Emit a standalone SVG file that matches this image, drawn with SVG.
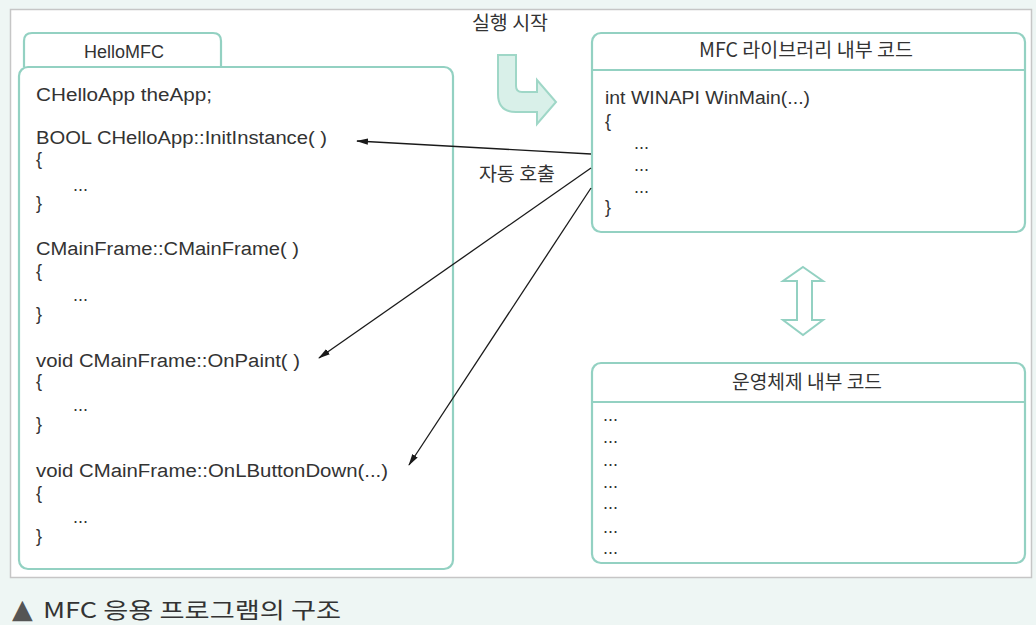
<svg xmlns="http://www.w3.org/2000/svg" width="1036" height="625" viewBox="0 0 1036 625">
<style>
.bg{fill:#eef6f4}
.frame{fill:#ffffff;stroke:#c6c6c6;stroke-width:1.5}
.box{fill:#ffffff;stroke:#93d1c2;stroke-width:2.2}
.div{stroke:#93d1c2;stroke-width:2.2}
.t{font-family:"Liberation Sans","Noto Sans CJK KR",Arial,sans-serif;fill:#333333;font-size:18px}
.k{font-family:"Noto Sans CJK KR","Liberation Sans",sans-serif;fill:#333333;font-size:19.5px}
.c{text-anchor:middle}
.conn{stroke:#1a1a1a;stroke-width:1.3;fill:none;marker-end:url(#ah)}
.big{fill:#d9f0e9;stroke:#9fd7c7;stroke-width:2}
.dbl{fill:#ffffff;stroke:#93d1c2;stroke-width:2}
</style>
<defs>
<marker id="ah" markerUnits="userSpaceOnUse" markerWidth="12" markerHeight="8" refX="11" refY="4" orient="auto">
<path d="M0,0.8 L12,4 L0,7.2 Z" fill="#1a1a1a"/>
</marker>
</defs>
<rect class="bg" x="0" y="0" width="1036" height="625"/>
<rect class="frame" x="10.5" y="9.5" width="1021" height="568"/>

<g id="hellomfc">
<path class="box" d="M24,67 L24,41 Q24,33 32,33 L213,33 Q221,33 221,41 L221,67"/>
<text class="t c" x="124" y="58">HelloMFC</text>
<rect class="box" x="19" y="67" width="434" height="502" rx="9"/>
<text class="t" x="36" y="101" textLength="176" lengthAdjust="spacingAndGlyphs">CHelloApp theApp;</text>
<text class="t" x="36" y="144" textLength="291" lengthAdjust="spacingAndGlyphs">BOOL CHelloApp::InitInstance( )</text>
<text class="t" x="36" y="165">{</text>
<text class="t" x="73" y="191">...</text>
<text class="t" x="36" y="209">}</text>
<text class="t" x="36" y="255" textLength="263" lengthAdjust="spacingAndGlyphs">CMainFrame::CMainFrame( )</text>
<text class="t" x="36" y="277">{</text>
<text class="t" x="73" y="301">...</text>
<text class="t" x="36" y="320">}</text>
<text class="t" x="36" y="367" textLength="264" lengthAdjust="spacingAndGlyphs">void CMainFrame::OnPaint( )</text>
<text class="t" x="36" y="387">{</text>
<text class="t" x="73" y="411">...</text>
<text class="t" x="36" y="430">}</text>
<text class="t" x="36" y="477" textLength="352" lengthAdjust="spacingAndGlyphs">void CMainFrame::OnLButtonDown(...)</text>
<text class="t" x="36" y="499">{</text>
<text class="t" x="73" y="523">...</text>
<text class="t" x="36" y="542">}</text>
</g>

<g id="mfclib">
<rect class="box" x="592" y="33" width="433" height="199" rx="9"/>
<line class="div" x1="592" y1="70" x2="1025" y2="70"/>
<text class="k c" x="806" y="57" textLength="214" lengthAdjust="spacingAndGlyphs">MFC 라이브러리 내부 코드</text>
<text class="t" x="605" y="104" textLength="205" lengthAdjust="spacingAndGlyphs">int WINAPI WinMain(...)</text>
<text class="t" x="605" y="127">{</text>
<text class="t" x="634" y="149">...</text>
<text class="t" x="634" y="171">...</text>
<text class="t" x="634" y="193">...</text>
<text class="t" x="605" y="213">}</text>
</g>

<g id="oscode">
<rect class="box" x="592" y="363" width="433" height="200" rx="9"/>
<line class="div" x1="592" y1="402" x2="1025" y2="402"/>
<text class="k c" x="807" y="389" textLength="150" lengthAdjust="spacingAndGlyphs">운영체제 내부 코드</text>
<text class="t" x="603" y="421">...</text>
<text class="t" x="603" y="443">...</text>
<text class="t" x="603" y="466">...</text>
<text class="t" x="603" y="488">...</text>
<text class="t" x="603" y="509">...</text>
<text class="t" x="603" y="533">...</text>
<text class="t" x="603" y="554">...</text>
</g>

<g id="start">
<text class="k c" x="510" y="30">실행 시작</text>
<path class="big" d="M498,55 L516,55 L516,86 Q516,92 522,92 L537,92 L537,80 L556,102 L537,124 L537,112 L516,112 Q498,112 498,94 Z"/>
</g>

<g id="exchange">
<path class="dbl" d="M803,267 L823,281 L812,281 L812,320 L823,320 L803,335 L783,320 L797,320 L797,281 L783,281 Z"/>
</g>

<g id="connectors">
<line class="conn" x1="591" y1="154" x2="357" y2="141"/>
<line class="conn" x1="591" y1="168" x2="319" y2="358"/>
<line class="conn" x1="591" y1="188" x2="409" y2="465"/>
<text class="k c" x="517" y="181">자동 호출</text>
</g>

<g id="caption">
<text class="t" x="12" y="618" style="font-size:22px;fill:#333"><tspan style="fill:#555;font-size:27px;font-family:'DejaVu Sans',sans-serif">▲</tspan><tspan x="43" textLength="298" lengthAdjust="spacingAndGlyphs" style="font-family:'Noto Sans CJK KR',sans-serif">MFC 응용 프로그램의 구조</tspan></text>
</g>
</svg>
